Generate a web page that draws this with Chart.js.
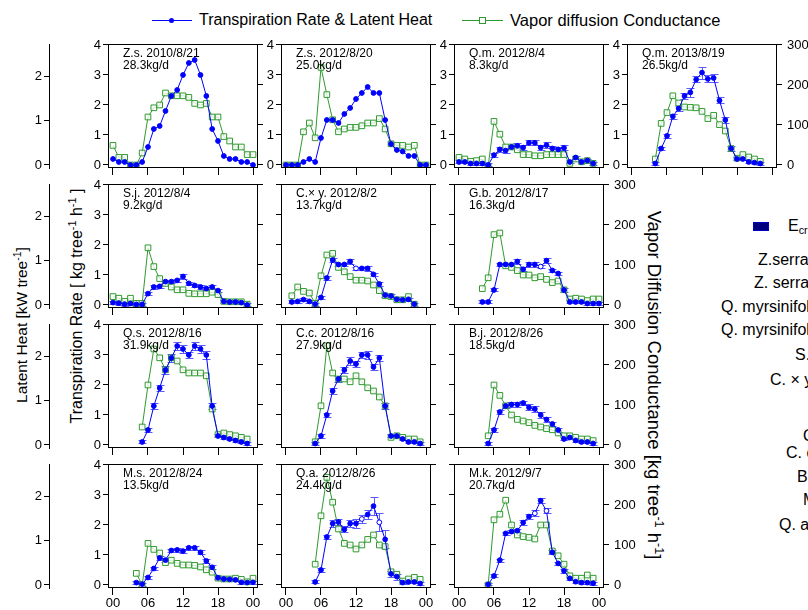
<!DOCTYPE html>
<html>
<head>
<meta charset="utf-8">
<script src="https://cdn.jsdelivr.net/npm/chart.js@4.4.1/dist/chart.umd.min.js"></script>
<style>
  body { margin: 0; width: 808px; height: 610px; overflow: hidden; background: #fff; position: relative;
         font-family: "Liberation Sans", Arial, sans-serif; color: #000; }
  canvas.panel { position: absolute; left: 0; top: 0; }
  .txt { position: absolute; white-space: nowrap; line-height: 18px; }
  .vt { position: absolute; white-space: nowrap; transform: translate(-50%, -50%) rotate(-90deg); }
  .vt2 { position: absolute; white-space: nowrap; transform: translate(-50%, -50%) rotate(90deg); }
  sup { font-size: 68%; vertical-align: 0.55em; line-height: 0; }
  sub { font-size: 68%; vertical-align: -0.25em; line-height: 0; }
</style>
</head>
<body>

<!-- top legend -->
<div style="position:absolute;left:152px;top:20px;width:40px;border-top:1px solid #0000ff"></div>
<div style="position:absolute;left:169px;top:18px;width:5px;height:5px;border-radius:50%;background:#0000ff"></div>
<div class="txt" style="left:199px;top:11px;font-size:16px">Transpiration Rate &amp; Latent Heat</div>
<div style="position:absolute;left:462px;top:20px;width:41px;border-top:1px solid #2f9a2f"></div>
<div style="position:absolute;left:479px;top:17px;width:5px;height:5px;border:1px solid #2f9a2f;background:#fff"></div>
<div class="txt" style="left:510px;top:11px;font-size:16.5px">Vapor diffusion Conductance</div>

<!-- axis titles -->
<div class="vt" style="left:22px;top:325px;font-size:15.5px">Latent Heat [kW tree<sup>-1</sup>]</div>
<div class="vt" style="left:77px;top:306px;font-size:16px">Transpiration Rate [ kg tree<sup>-1</sup> h<sup>-1</sup> ]</div>
<div class="vt2" style="left:654px;top:385px;font-size:18.5px">Vapor Diffusion Conductance [kg tree<sup>-1</sup> h<sup>-1</sup>]</div>

<!-- right-hand legend (runs off the page) -->
<div style="position:absolute;left:753px;top:222px;width:16px;height:9px;background:#00007f;border:1px solid #0000cc;box-sizing:border-box"></div>
<div class="txt" style="left:788px;top:217px;font-size:16px">E<sub>cr</sub> daily</div>
<div class="txt" style="left:758px;top:251px;font-size:16px">Z.serrata 2010</div>
<div class="txt" style="left:754px;top:274px;font-size:16px">Z. serrata 2012</div>
<div class="txt" style="left:721px;top:298px;font-size:16px">Q. myrsinifolia 2012</div>
<div class="txt" style="left:721px;top:321px;font-size:16px">Q. myrsinifolia 2013</div>
<div class="txt" style="left:795px;top:346px;font-size:16px">S. japonica</div>
<div class="txt" style="left:770px;top:371px;font-size:16px">C. × yedoensis</div>
<div class="txt" style="left:803px;top:427px;font-size:16px">Q. serrata</div>
<div class="txt" style="left:786px;top:444px;font-size:16px">C. camphora</div>
<div class="txt" style="left:797px;top:468px;font-size:16px">B. javanica</div>
<div class="txt" style="left:803px;top:491px;font-size:16px">M. sp.</div>
<div class="txt" style="left:779px;top:516px;font-size:16px">Q. acutissima</div>

<script>
// ---- data (rate in kg tree-1 h-1, conductance in kg tree-1 h-1, hourly) ----
const hourTicks = [0, 6, 12, 18, 24];
const hourLabels = ['00', '06', '12', '18', '00'];
const rateTicks = [0, 1, 2, 3, 4];
const condTicks = [0, 100, 200, 300];
const heatTicks = [0, 1, 2];

const panelTitles = ['Z.s. 2010/8/21', 'Z.s. 2012/8/20', 'Q.m. 2012/8/4', 'Q.m. 2013/8/19',
  'S.j. 2012/8/4', 'C.× y. 2012/8/2', 'G.b. 2012/8/17',
  'Q.s. 2012/8/16', 'C.c. 2012/8/16', 'B.j. 2012/8/26',
  'M.s. 2012/8/24', 'Q.a. 2012/8/26', 'M.k. 2012/9/7'];
const dailyTotals = ['28.3kg/d', '25.0kg/d', '8.3kg/d', '26.5kg/d',
  '9.2kg/d', '13.7kg/d', '16.3kg/d',
  '31.9kg/d', '27.9kg/d', '18.5kg/d',
  '13.5kg/d', '24.4kg/d', '20.7kg/d'];
const startHours = [0, 0, 0, 4, 0, 1, 4, 5, 5, 5, 4, 5, 5];

const zs2010Rate = [0.2, 0.1, 0.1, 0, 0, 0.1, 0.6, 1.2, 1.3, 1.8, 2.3, 2.5, 3.0, 3.4, 3.5, 3.0, 2.3, 1.2, 0.8, 0.3, 0.2, 0.2, 0.1, 0.1, 0];
const zs2010Cond = [49, 19, 19, 0, 0, 30, 120, 143, 150, 180, 173, 173, 173, 169, 154, 150, 154, 120, 120, 71, 60, 45, 45, 26, 26];

const zs2012Rate = [0, 0, 0, 0.1, 0.2, 0.1, 0.9, 1.5, 1.5, 1.4, 1.7, 1.9, 2.2, 2.4, 2.6, 2.4, 2.4, 1.5, 0.7, 0.5, 0.45, 0.3, 0.3, 0, 0];
const zs2012Cond = [0, 0, 0, 83, 105, 68, 244, 176, 113, 83, 90, 94, 94, 98, 105, 105, 116, 90, 53, 49, 49, 45, 49, 0, 0];

const qm2012Rate = [0.1, 0.1, 0.05, 0.05, 0.05, 0, 0.33, 0.52, 0.48, 0.6, 0.64, 0.58, 0.74, 0.74, 0.58, 0.66, 0.55, 0.52, 0.57, 0.1, 0.25, 0.1, 0.15, 0.05];
const qm2012Cond = [19, 15, 9, 11, 15, -3, 109, 77, 45, 45, 38, 26, 26, 23, 23, 26, 26, 26, 26, 4, 15, 8, 11, 4];
const qm2012Err = [0.05, 0.05, 0.05, 0.05, 0.05, 0.05, 0.07, 0.08, 0.07, 0.08, 0.08, 0.07, 0.08, 0.08, 0.07, 0.1, 0.07, 0.07, 0.08, 0.05, 0.05, 0.05, 0.05, 0.05];

const qm2013Rate = [0.05, 0.55, 0.97, 1.62, 1.88, 2.3, 2.42, 2.85, 3.08, 2.87, 2.9, 2.15, 1.5, 0.55, 0.2, 0.2, 0.1, 0.08, 0.05];
const qm2013Cond = [15, 104, 131, 173, 155, 145, 144, 143, 134, 116, 124, 101, 85, 41, 17, 26, 20, 15, 9];
const qm2013Err = [0.05, 0.05, 0.06, 0.08, 0.08, 0.1, 0.15, 0.1, 0.2, 0.12, 0.12, 0.1, 0.1, 0.08, 0.05, 0.05, 0.05, 0.05, 0.05];

const sjRate = [0.08, 0.06, 0.03, 0.05, 0.02, 0.02, 0.38, 0.6, 0.62, 0.78, 0.78, 0.82, 0.95, 0.72, 0.65, 0.6, 0.55, 0.6, 0.48, 0.12, 0.1, 0.1, 0.08, 0];
const sjCond = [21, 17, 9, 17, 4, 4, 143, 96, 66, 54, 45, 38, 38, 29, 28, 28, 28, 32, 26, 9, 8, 8, 8, 2];
const sjErr = [0.05, 0.05, 0.05, 0.05, 0.05, 0.05, 0.05, 0.06, 0.06, 0.06, 0.06, 0.06, 0.08, 0.06, 0.06, 0.06, 0.06, 0.07, 0.06, 0.05, 0.05, 0.05, 0.05, 0.05];

const cyRate = [0.1, 0.12, 0.18, 0.12, 0.03, 0.25, 0.9, 1.5, 1.35, 1.35, 1.45, 1.22, 1.22, 1.22, 1.02, 0.7, 0.33, 0.3, 0.19, 0.17, 0.19, 0.03];
const cyCond = [23, 45, 34, 30, 4, 73, 125, 129, 94, 83, 71, 62, 62, 60, 50, 36, 23, 21, 13, 13, 21, 2];
const cyErr = [0.05, 0.05, 0.05, 0.05, 0.05, 0.06, 0.08, 0.08, 0.06, 0.06, 0.08, 0.06, 0.06, 0.08, 0.06, 0.06, 0.05, 0.05, 0.05, 0.05, 0.05, 0.05];

const gbRate = [0.1, 0.1, 0.5, 1.35, 1.35, 1.35, 1.45, 1.19, 1.35, 1.35, 1.28, 1.48, 1.15, 1.05, 0.5, 0.1, 0.1, 0.1, 0.05, 0.05, 0.05];
const gbCond = [41, 68, 176, 180, 98, 94, 86, 75, 75, 68, 71, 64, 56, 60, 38, 15, 17, 15, 11, 15, 15];
const gbErr = [0.05, 0.05, 0.05, 0.06, 0.06, 0.06, 0.08, 0.06, 0.08, 0.08, 0.06, 0.08, 0.06, 0.06, 0.08, 0.05, 0.05, 0.05, 0.05, 0.05, 0.05];

const qsRate = [0.1, 0.5, 1.3, 1.9, 2.5, 2.9, 3.3, 3.2, 3.0, 3.3, 3.2, 3.0, 1.3, 0.3, 0.25, 0.2, 0.15, 0.1, 0.05];
const qsCond = [45, 150, 240, 218, 188, 218, 210, 188, 180, 180, 180, 173, 90, 26, 30, 26, 23, 19, 15];
const qsErr = [0.05, 0.08, 0.1, 0.1, 0.12, 0.12, 0.12, 0.12, 0.1, 0.12, 0.12, 0.12, 0.1, 0.05, 0.05, 0.05, 0.05, 0.05, 0.05];

const ccRate = [0.05, 0.3, 1.0, 1.8, 2.2, 2.5, 2.8, 2.7, 3.0, 3.0, 2.6, 2.9, 1.3, 0.3, 0.3, 0.2, 0.1, 0.1, 0.05];
const ccCond = [8, 98, 248, 180, 165, 165, 158, 173, 158, 143, 135, 120, 98, 19, 23, 19, 15, 15, 8];
const ccErr = [0.05, 0.06, 0.08, 0.1, 0.1, 0.1, 0.12, 0.1, 0.1, 0.12, 0.1, 0.1, 0.1, 0.05, 0.05, 0.05, 0.05, 0.05, 0.05];

const bjRate = [0.05, 0.5, 1.1, 1.3, 1.35, 1.35, 1.4, 1.25, 1.2, 1.0, 0.85, 0.7, 0.5, 0.2, 0.25, 0.15, 0.1, 0.1, 0.05];
const bjCond = [23, 150, 124, 98, 75, 64, 60, 56, 49, 45, 41, 38, 30, 23, 23, 19, 15, 15, 11];
const bjErr = [0.05, 0.06, 0.08, 0.08, 0.08, 0.08, 0.08, 0.1, 0.1, 0.1, 0.08, 0.08, 0.08, 0.05, 0.05, 0.05, 0.05, 0.05, 0.05];

const msRate = [0.08, 0.03, 0.25, 0.55, 0.9, 0.83, 1.15, 1.17, 1.13, 1.24, 1.24, 1.09, 0.8, 0.59, 0.24, 0.2, 0.19, 0.17, 0.09, 0.08, 0.09];
const msCond = [29, 0, 104, 89, 80, 56, 62, 54, 50, 50, 49, 45, 38, 32, 17, 15, 15, 17, 14, 8, 17];
const msErr = [0.05, 0.05, 0.05, 0.06, 0.06, 0.06, 0.06, 0.06, 0.06, 0.06, 0.06, 0.06, 0.06, 0.06, 0.05, 0.05, 0.05, 0.05, 0.05, 0.05, 0.05];

const qaRate = [0.1, 0.5, 1.6, 2.05, 2.1, 1.85, 2.05, 2.05, 2.2, 2.35, 2.63, 2.09, 1.52, 0.37, 0.28, 0.08, 0.1, 0.1, 0.05];
const qaCond = [52, 173, 269, 207, 140, 104, 100, 90, 100, 114, 125, 100, 96, 33, 27, 10, 15, 19, 14];
const qaErr = [0.05, 0.06, 0.08, 0.12, 0.1, 0.1, 0.12, 0.15, 0.12, 0.15, 0.3, 0.3, 0.3, 0.1, 0.1, 0.05, 0.05, 0.05, 0.05];

const mkRate = [0.02, 0.3, 0.83, 1.72, 1.78, 1.81, 2.08, 2.28, 2.39, 2.81, 2.47, 1.09, 0.72, 0.47, 0.22, 0.11, 0.08, 0.08, 0.06];
const mkCond = [0, 163, 177, 212, 150, 125, 121, 119, 115, 150, 150, 85, 73, 52, 23, 17, 17, 25, 17];
const mkErr = [0.03, 0.05, 0.05, 0.06, 0.06, 0.06, 0.08, 0.08, 0.1, 0.08, 0.08, 0.06, 0.06, 0.06, 0.05, 0.05, 0.05, 0.05, 0.05];

// hours drawn as open circles
const hollowHours = [[], [], [], [], [], [12], [14], [], [], [], [], [13, 16], [13, 15]];

const rateSeries = [zs2010Rate, zs2012Rate, qm2012Rate, qm2013Rate, sjRate, cyRate, gbRate, qsRate, ccRate, bjRate, msRate, qaRate, mkRate];
const condSeries = [zs2010Cond, zs2012Cond, qm2012Cond, qm2013Cond, sjCond, cyCond, gbCond, qsCond, ccCond, bjCond, msCond, qaCond, mkCond];
const errSeries = [null, null, qm2012Err, qm2013Err, sjErr, cyErr, gbErr, qsErr, ccErr, bjErr, msErr, qaErr, mkErr];

// ---- layout ----
const panelSlots = [[0, 0], [0, 1], [0, 2], [0, 3], [1, 0], [1, 1], [1, 2], [2, 0], [2, 1], [2, 2], [3, 0], [3, 1], [3, 2]];
const colLeft = [108, 281, 454, 627];
const rowTop = [44, 184, 324, 464];
const boxW = 150, boxH = 124;
const W = 808, H = 610;

const BLUE = '#0000ff';
const GREEN = '#2f9a2f';
const RATE_MIN = -0.1, RATE_MAX = 4.0333;   // 30 px per kg/h
const COND_K = 75;                          // 300 conductance == 4 kg/h
const HEAT_K = 1.4833;                      // 1 kW == 1.4833 kg/h
const X_MIN = -0.857, X_MAX = 24.857;

Chart.defaults.font.family = '"Liberation Sans", Arial, sans-serif';
Chart.defaults.color = '#000';

function fixedTicks(list) {
    return function (scale) { scale.ticks = list.map(v => ({ value: v })); };
}

function makePanel(i) {
    const [row, col] = panelSlots[i];
    const left = colLeft[col], top = rowTop[row];
    const firstCol = col === 0;
    const lastCol = row === 0 ? col === 3 : col === 2;
    const bottomRow = row === 3;

    // axis box sizes (labels are clipped to them, so give room where labels show)
    const heatW = 49;
    const rateW = firstCol ? 59 : (row === 0 ? 16 : 0);
    const condW = lastCol ? W - (left + boxW) : 0;
    const hourH = bottomRow ? H - (top + boxH) : 0;

    const canvas = document.createElement('canvas');
    canvas.className = 'panel';
    canvas.width = W; canvas.height = H;
    canvas.style.width = W + 'px'; canvas.style.height = H + 'px';
    document.body.appendChild(canvas);

    const start = startHours[i];
    const hollow = hollowHours[i];
    const rate = rateSeries[i];
    const err = errSeries[i];

    const frame = {
        id: 'frame' + i,
        beforeDatasetsDraw(chart) {
            if (!err) return;
            const ctx = chart.ctx;
            const xs = chart.scales.x, ys = chart.scales.y;
            ctx.save();
            ctx.strokeStyle = '#5a5aff';
            ctx.lineWidth = 1;
            rate.forEach((v, k) => {
                const px = Math.round(xs.getPixelForValue(start + k)) + 0.5;
                const y1 = Math.round(ys.getPixelForValue(v + err[k])) + 0.5;
                const y2 = Math.round(ys.getPixelForValue(v - err[k])) + 0.5;
                ctx.beginPath();
                ctx.moveTo(px, y1); ctx.lineTo(px, y2);
                ctx.moveTo(px - 4, y1); ctx.lineTo(px + 4, y1);
                ctx.moveTo(px - 4, y2); ctx.lineTo(px + 4, y2);
                ctx.stroke();
            });
            ctx.restore();
        },
        afterDraw(chart) {
            const { ctx, chartArea: a } = chart;
            ctx.save();
            ctx.strokeStyle = '#000';
            ctx.lineWidth = 1;
            ctx.strokeRect(a.left + 0.5, a.top + 0.5, a.right - a.left - 1, a.bottom - a.top - 1);
            ctx.fillStyle = '#000';
            ctx.font = '12px "Liberation Sans", Arial, sans-serif';
            ctx.textBaseline = 'alphabetic';
            ctx.fillText(panelTitles[i], a.left + 15, a.top + 13);
            ctx.fillText(dailyTotals[i], a.left + 15, a.top + 25);
            ctx.restore();
        }
    };

    const scales = {
        x: {
            type: 'linear', position: 'bottom', min: X_MIN, max: X_MAX,
            afterFit: s => { s.height = hourH; },
            afterBuildTicks: fixedTicks(hourTicks),
            ticks: { display: bottomRow, autoSkip: false, maxRotation: 0, padding: 1,
                     font: { size: 13 }, callback: (v, k) => hourLabels[k] },
            grid: { drawOnChartArea: false, tickLength: 7, color: '#000' },
            border: { display: false }
        },
        y: {
            position: 'left', min: RATE_MIN, max: RATE_MAX, weight: 0,
            afterFit: s => { s.width = rateW; },
            afterBuildTicks: fixedTicks(rateTicks),
            ticks: { display: row === 0 || firstCol, autoSkip: false, padding: 2, font: { size: 13 } },
            grid: { drawOnChartArea: false, tickLength: 5, color: '#000' },
            border: { display: false }
        },
        yC: {
            position: 'right', min: RATE_MIN * COND_K, max: RATE_MAX * COND_K,
            afterFit: s => { s.width = condW; },
            afterBuildTicks: fixedTicks(condTicks),
            ticks: { display: lastCol, autoSkip: false, padding: 5, font: { size: 13 } },
            grid: { drawOnChartArea: false, tickLength: 5, color: '#000' },
            border: { display: false }
        }
    };
    if (firstCol) {
        scales.yH = {
            position: 'left', min: RATE_MIN / HEAT_K, max: RATE_MAX / HEAT_K, weight: 1,
            afterFit: s => { s.width = heatW; },
            afterBuildTicks: fixedTicks(heatTicks),
            ticks: { autoSkip: false, padding: 2, font: { size: 13 } },
            grid: { drawOnChartArea: false, tickLength: 5, color: '#000' },
            border: { display: true, color: '#000', width: 1 }
        };
    }

    new Chart(canvas, {
        type: 'line',
        data: {
            datasets: [
                {
                    data: rate.map((v, k) => ({ x: start + k, y: v })),
                    yAxisID: 'y',
                    borderColor: BLUE, borderWidth: 1,
                    pointRadius: 2.4, pointBorderWidth: 1, pointBorderColor: BLUE,
                    pointBackgroundColor: rate.map((v, k) => hollow.includes(start + k) ? '#ffffff' : BLUE),
                    tension: 0
                },
                {
                    data: condSeries[i].map((v, k) => ({ x: start + k, y: v })),
                    yAxisID: 'yC',
                    borderColor: GREEN, borderWidth: 1,
                    pointStyle: 'rect', pointRadius: 4, pointBorderWidth: 1,
                    pointBorderColor: GREEN, pointBackgroundColor: 'rgba(255,255,255,0.75)',
                    tension: 0
                }
            ]
        },
        options: {
            responsive: false,
            animation: false,
            devicePixelRatio: 1,
            layout: {
                padding: {
                    left: firstCol ? 0 : left - rateW,
                    top: top,
                    right: W - (left + boxW) - condW,
                    bottom: H - (top + boxH) - hourH
                }
            },
            plugins: { legend: { display: false }, tooltip: { enabled: false } },
            scales: scales
        },
        plugins: [frame]
    });
}

panelSlots.forEach((s, i) => makePanel(i));
</script>
</body>
</html>
